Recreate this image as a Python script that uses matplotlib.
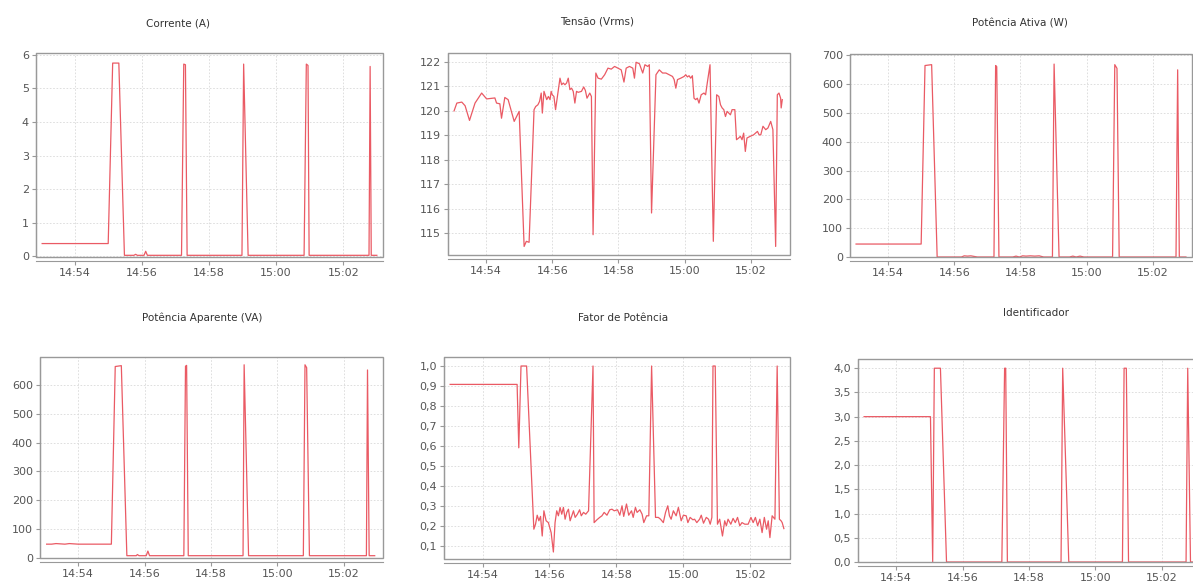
import numpy as np
import matplotlib
matplotlib.use('Agg')
import matplotlib.pyplot as plt
import matplotlib.dates as mdates
from matplotlib.patches import Rectangle
from matplotlib.ticker import FuncFormatter, MultipleLocator

# tempos em segundos a partir de 14:53:00
t_corrente = [2, 120, 128, 139, 149, 166, 169, 172, 184, 187, 190, 251, 255, 258, 261,
              359, 362, 370, 470, 474, 477, 479, 586, 588, 590, 600]
corrente = [0.38, 0.38, 5.75, 5.75, 0.03, 0.03, 0.06, 0.03, 0.03, 0.15, 0.03, 0.03, 5.72, 5.70, 0.03,
            0.03, 5.72, 0.03, 0.03, 5.72, 5.68, 0.03, 0.03, 5.65, 0.03, 0.03]

t_tensao = [2, 7, 16, 22, 30, 40, 52, 61, 76, 79,
            85, 88, 94, 100, 106, 111, 120, 129, 133, 138,
            147, 150, 154, 157, 160, 162, 165, 170, 173, 176,
            178, 180, 183, 186, 191, 194, 197, 200, 203, 206,
            209, 212, 215, 218, 221, 224, 227, 233, 237, 240,
            243, 248, 251, 254, 259, 263, 269, 275, 281, 287,
            293, 299, 305, 310, 314, 320, 326, 329, 332, 338,
            344, 348, 353, 356, 360, 368, 374, 380, 386, 392,
            398, 401, 404, 407, 413, 419, 422, 425, 428, 431,
            434, 437, 440, 443, 446, 450, 455, 458, 461, 466,
            472, 478, 482, 485, 488, 491, 494, 497, 503, 506,
            511, 514, 518, 521, 524, 527, 530, 533, 539, 545,
            552, 555, 558, 562, 567, 571, 576, 580, 585, 588,
            591, 594, 595, 597]
tensao = [120.0, 120.32, 120.36, 120.21, 119.61, 120.32, 120.73, 120.49, 120.53, 120.32,
          120.29, 119.70, 120.55, 120.46, 119.98, 119.57, 119.98, 114.45, 114.66, 114.62,
          120.05, 120.18, 120.25, 120.39, 120.73, 119.91, 120.80, 120.46, 120.59, 120.46,
          120.80, 120.66, 120.59, 120.05, 120.87, 121.34, 121.07, 121.14, 121.07, 121.14,
          121.34, 120.87, 120.93, 120.80, 120.32, 120.80, 120.76, 120.80, 120.98, 120.84,
          120.52, 120.73, 120.59, 114.93, 121.55, 121.34, 121.30, 121.48, 121.75, 121.71,
          121.82, 121.75, 121.68, 121.18, 121.75, 121.82, 121.75, 121.34, 121.99, 121.93,
          121.55, 121.89, 121.82, 121.89, 115.82, 121.48, 121.68, 121.55, 121.55, 121.48,
          121.41, 121.28, 120.93, 121.28, 121.34, 121.41, 121.48, 121.39, 121.44, 121.34,
          121.44, 120.52, 120.46, 120.52, 120.32, 120.66, 120.73, 120.66, 121.14, 121.89,
          114.66, 120.66, 120.59, 120.25, 120.12, 120.05, 119.77, 119.98, 119.84, 120.05,
          120.05, 118.82, 118.89, 118.96, 118.82, 119.09, 118.34, 118.89, 118.96, 119.02,
          119.16, 119.02, 119.02, 119.37, 119.23, 119.30, 119.57, 119.23, 114.45, 120.66,
          120.73, 120.52, 120.12, 120.46]

t_ativa = [2, 120, 127, 139, 149, 193, 198, 204, 210, 216, 222, 252, 255, 257, 261,
           286, 292, 298, 304, 310, 318, 326, 334, 342, 358, 361, 370,
           389, 395, 401, 408, 415, 467, 471, 475, 479, 582, 585, 588, 600]
ativa = [45, 45, 665, 668, 0, 0, 4, 3, 4, 2, 0, 0, 665, 661, 0,
         0, 3, 0, 4, 3, 4, 3, 4, 0, 0, 670, 0,
         0, 3, 0, 3, 0, 0, 668, 655, 0, 0, 650, 0, 0]

t_aparente = [3, 12, 20, 28, 36, 44, 52, 60, 120, 127, 138, 148, 165, 167, 170, 183, 186, 189,
              251, 254, 256, 259, 358, 360, 368, 467, 470, 473, 478, 581, 583, 586, 596]
aparente = [48, 48, 50, 49, 48, 50, 49, 48, 48, 664, 667, 8, 8, 12, 8, 8, 24, 8,
            8, 665, 668, 8, 8, 670, 8, 8, 670, 660, 8, 8, 652, 8, 8]

t_fp = [2, 122, 125, 129, 139, 152, 155, 158, 161, 164,
        167, 170, 174, 178, 183, 187, 190, 193, 196, 199,
        202, 205, 208, 211, 214, 217, 220, 223, 226, 230,
        234, 237, 241, 245, 250, 258, 260, 265, 270, 274,
        278, 283, 288, 292, 296, 302, 306, 310, 313, 318,
        322, 327, 330, 334, 337, 342, 346, 349, 354, 358,
        363, 370, 375, 379, 384, 388, 392, 395, 398, 402,
        407, 411, 416, 420, 425, 428, 432, 437, 440, 444,
        449, 452, 456, 461, 465, 468, 471, 473, 477, 481,
        485, 490, 494, 497, 500, 505, 509, 513, 517, 521,
        525, 530, 536, 541, 545, 549, 553, 557, 561, 565,
        569, 572, 575, 579, 584, 588, 592, 595, 597, 600]
fp = [0.908, 0.908, 0.591, 1.0, 1.0, 0.184, 0.209, 0.254, 0.226, 0.248,
      0.150, 0.276, 0.226, 0.217, 0.167, 0.070, 0.217, 0.276, 0.251, 0.293,
      0.259, 0.293, 0.234, 0.268, 0.284, 0.226, 0.251, 0.276, 0.243, 0.259,
      0.281, 0.251, 0.268, 0.259, 0.276, 1.0, 0.217, 0.231, 0.243, 0.251,
      0.268, 0.254, 0.281, 0.284, 0.276, 0.281, 0.254, 0.301, 0.248, 0.310,
      0.254, 0.276, 0.243, 0.293, 0.268, 0.281, 0.259, 0.217, 0.251, 0.251,
      1.0, 0.243, 0.243, 0.234, 0.217, 0.268, 0.301, 0.251, 0.234, 0.276,
      0.251, 0.293, 0.226, 0.254, 0.251, 0.217, 0.243, 0.231, 0.234, 0.217,
      0.234, 0.254, 0.214, 0.243, 0.234, 0.209, 0.243, 1.0, 1.0, 0.209,
      0.234, 0.150, 0.226, 0.201, 0.234, 0.209, 0.238, 0.217, 0.243, 0.201,
      0.217, 0.209, 0.209, 0.243, 0.217, 0.243, 0.201, 0.234, 0.167, 0.243,
      0.184, 0.226, 0.142, 0.251, 0.234, 1.0, 0.234, 0.226, 0.217, 0.187]

t_ident = [2, 122, 126, 129, 140, 151, 251, 256, 258, 261, 358, 361, 372,
           469, 472, 476, 480, 584, 587, 592, 600]
ident = [3, 3, 0, 4, 4, 0, 0, 4, 4, 0, 0, 4, 0,
         0, 4, 4, 0, 0, 4, 0, 0]

inicio = np.datetime64('2021-01-01T14:53:00')

def horas(seg):
    return inicio + np.array(seg, dtype='timedelta64[s]')

W, H = 1193, 581

def caixa(l, t, r, b):
    return [l / W, 1 - b / H, (r - l) / W, (b - t) / H]

fig = plt.figure(figsize=(W / 100, H / 100), dpi=100)
fig.patch.set_facecolor('white')

def inteiro(v, p):
    return '%d' % round(v)

def virgula(v, p):
    return ('%.1f' % v).replace('.', ',')

def grafico(pos, titulo, tpos, t, y, ylim, passo, fmt):
    ax = fig.add_axes(caixa(*pos))
    ax.plot(horas(t), y, color='#ea5a64', lw=0.9)
    ax.set_xlim(horas([-9, 611]))
    ax.set_ylim(ylim)
    ax.yaxis.set_major_locator(MultipleLocator(passo))
    ax.yaxis.set_major_formatter(FuncFormatter(fmt))
    ax.xaxis.set_major_locator(mdates.MinuteLocator(interval=2))
    ax.xaxis.set_major_formatter(mdates.DateFormatter('%H:%M'))
    ax.grid(True, color='#d9d9d9', linestyle=(0, (2, 2)), linewidth=0.6)
    ax.spines['top'].set_visible(False)
    ax.spines['right'].set_visible(False)
    ax.spines['left'].set_color('#999999')
    ax.spines['bottom'].set_color('#999999')
    ax.spines['bottom'].set_position(('outward', 3))
    ax.add_patch(Rectangle((0, 0), 1, 1, transform=ax.transAxes, fill=False,
                           ec='#999999', lw=1, clip_on=False, zorder=3))
    ax.tick_params(labelsize=8, labelcolor='#555555', color='#999999',
                   length=3, width=0.8, pad=2)
    fig.text(tpos[0] / W, 1 - tpos[1] / H, titulo, ha='center', va='center',
             fontsize=7.5, color='#333333')
    return ax

grafico((36, 53, 383, 257), 'Corrente (A)', (178, 23), t_corrente, corrente, (-0.02, 6.05), 1, inteiro)
grafico((448, 53, 790, 255), 'Tensão (Vrms)', (597, 21), t_tensao, tensao, (114.1, 122.37), 1, inteiro)
grafico((850, 54, 1192, 257), 'Potência Ativa (W)', (1020, 23), t_ativa, ativa, (0, 705), 100, inteiro)
grafico((40, 357, 383, 558), 'Potência Aparente (VA)', (202, 318), t_aparente, aparente, (0, 697), 100, inteiro)
grafico((444, 357, 790, 559), 'Fator de Potência', (623, 318), t_fp, fp, (0.035, 1.045), 0.1, virgula)
grafico((858, 359, 1201, 562), 'Identificador', (1036, 313), t_ident, ident, (0, 4.19), 0.5, virgula)

plt.savefig('out.png', dpi=100, facecolor='white')
